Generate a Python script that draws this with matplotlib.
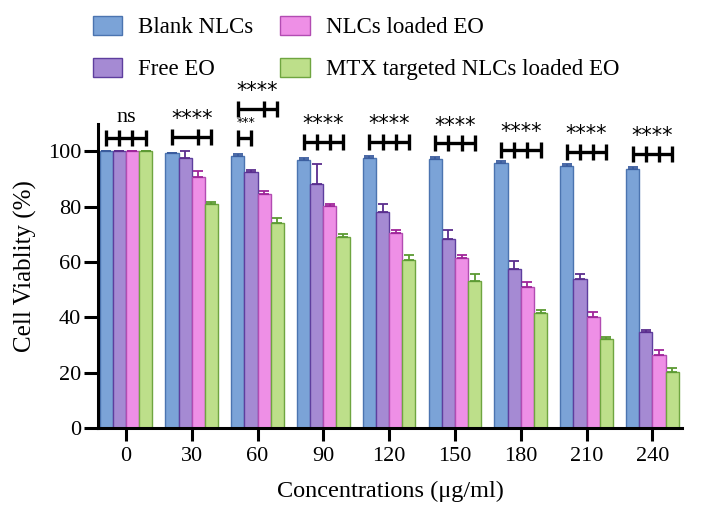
import matplotlib
matplotlib.use("Agg")
import matplotlib.pyplot as plt
import numpy as np
from matplotlib.patches import Patch

plt.rcParams['font.family'] = ['Liberation Serif', 'DejaVu Serif']

concentrations = ['0', '30', '60', '90', '120', '150', '180', '210', '240']
series_names = ['Blank NLCs', 'Free EO', 'NLCs loaded EO', 'MTX targeted NLCs loaded EO']

blank = [100, 99.2, 98.4, 96.8, 97.6, 97.0, 95.6, 94.6, 93.5]
free_eo = [100, 97.7, 92.3, 88.3, 78.1, 68.1, 57.4, 53.7, 34.7]
nlc_eo = [100, 90.7, 84.4, 80.3, 70.6, 61.4, 51.0, 40.1, 26.2]
mtx = [100, 81.1, 73.9, 69.1, 60.6, 53.0, 41.4, 32.0, 20.3]

blank_err = [0, 0.3, 0.6, 0.6, 0.7, 0.9, 0.7, 0.6, 0.7]
free_err = [0, 2.4, 0.8, 7.0, 2.9, 3.6, 2.8, 1.9, 0.8]
nlc_err = [0, 2.0, 1.3, 0.7, 1.0, 1.2, 1.8, 1.8, 1.8]
mtx_err = [0, 0.7, 1.8, 0.9, 1.8, 2.7, 1.3, 1.0, 1.3]

# significance annotations
sig_groups = [0, 1, 2, 2, 3, 4, 5, 6, 7, 8]
sig_bars = [[0, 1, 2, 3], [0, 2, 3], [0, 1], [0, 2, 3], [0, 1, 2, 3], [0, 1, 2, 3],
            [0, 1, 2, 3], [0, 1, 2, 3], [0, 1, 2, 3], [0, 1, 2, 3]]
sig_y = [104.7, 105.2, 104.7, 115.2, 103.4, 103.4, 102.8, 100.4, 99.8, 98.9]
sig_text = ['ns', '****', '***', '****', '****', '****', '****', '****', '****', '****']

values = [blank, free_eo, nlc_eo, mtx]
errors = [blank_err, free_err, nlc_err, mtx_err]
faces = ['#7BA3D7', '#A58AD3', '#EE8FE6', '#BDDF8A']
edges = ['#4B74B0', '#5E3E9E', '#B24CB2', '#6FA540']
errc = ['#3A5C9E', '#5A2D8E', '#A0259A', '#5C9A33']

fig = plt.figure(figsize=(7.01, 5.12), dpi=100)
ax = fig.add_axes([98/701, 1-428/512, (682-98)/701, (428-123.5)/512])

x = np.arange(len(concentrations))
w = 0.2
offsets = [-0.3, -0.1, 0.1, 0.3]
for i in range(4):
    ax.bar(x + offsets[i], values[i], width=w, color=faces[i], edgecolor=edges[i],
           linewidth=1.0, zorder=2)
    ax.errorbar(x + offsets[i], values[i], yerr=[np.zeros(len(x)), errors[i]],
                fmt='none', ecolor=errc[i], elinewidth=1.3, capsize=3.5, capthick=1.3, zorder=3)

ax.set_xlim(-0.424, 8.45)
ax.set_ylim(0, 110)
ax.set_yticks([0, 20, 40, 60, 80, 100])
ax.set_xticks(x)
ax.set_xticklabels(concentrations)
for s in ['top', 'right']:
    ax.spines[s].set_visible(False)
for s in ['left', 'bottom']:
    ax.spines[s].set_linewidth(2.2)
ax.tick_params(axis='y', which='major', width=2.2, length=10, labelsize=16, pad=2)
ax.tick_params(axis='x', which='major', width=2.2, length=9, labelsize=16, pad=5)
ax.set_ylabel('Cell Viablity (%)', fontsize=18)
ax.yaxis.set_label_coords(-0.105, 0.532)
ax.set_xlabel('Concentrations (μg/ml)', fontsize=17.5)
ax.xaxis.set_label_coords(0.5, -0.172)

tick_h = 2.9
for g, bars, yb, txt in zip(sig_groups, sig_bars, sig_y, sig_text):
    xs = [g + offsets[b] for b in bars]
    ax.plot([xs[0], xs[-1]], [yb, yb], color='black', lw=2.4, clip_on=False,
            solid_capstyle='butt', zorder=5)
    for xx in xs:
        ax.plot([xx, xx], [yb - tick_h, yb + tick_h], color='black', lw=2.4,
                clip_on=False, solid_capstyle='butt', zorder=5)
    xc = (xs[0] + xs[-1]) / 2
    if txt == 'ns':
        ax.text(xc, yb + 4.0, txt, ha='center', va='bottom', fontsize=16, clip_on=False)
    elif txt == '***':
        ax.text(xs[0] - 0.02, yb + 3.2, txt, ha='left', va='bottom', fontsize=9,
                family='DejaVu Sans', clip_on=False)
    else:
        ax.text(xc, yb + 2.8, txt, ha='center', va='bottom', fontsize=15,
                family='DejaVu Sans', clip_on=False)

handles = [Patch(facecolor=faces[0], edgecolor=edges[0], label=series_names[0]),
           Patch(facecolor=faces[1], edgecolor=edges[1], label=series_names[1]),
           Patch(facecolor=faces[2], edgecolor=edges[2], label=series_names[2]),
           Patch(facecolor=faces[3], edgecolor=edges[3], label=series_names[3])]
fig.legend(handles=handles, loc='upper left', bbox_to_anchor=(72/701, 1.0 + 5/512), ncol=2,
           frameon=False, fontsize=16.5, handlelength=1.3, handleheight=0.9,
           handletextpad=0.7, columnspacing=1.15, labelspacing=0.85, borderpad=0.4)

fig.savefig('out.png', dpi=100)
